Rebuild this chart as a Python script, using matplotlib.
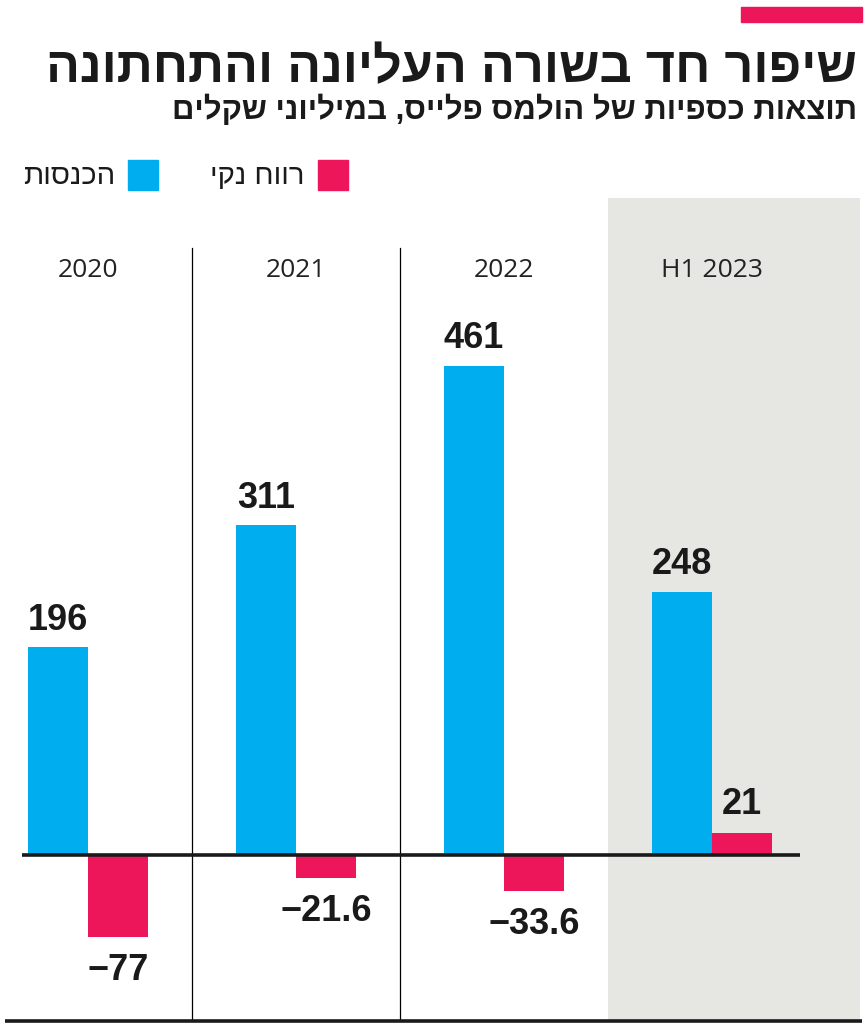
import numpy as np
import matplotlib
matplotlib.use("Agg")
import matplotlib.pyplot as plt

# data
years = ["2020", "2021", "2022", "H1 2023"]
revenue = [196, 311, 461, 248]
net_profit = [-77, -21.6, -33.6, 21]
revenue_labels = ["196", "311", "461", "248"]
profit_labels = ["\u221277", "\u221221.6", "\u221233.6", "21"]

title = "שיפור חד בשורה העליונה והתחתונה"
subtitle = "תוצאות כספיות של הולמס פלייס, במיליוני שקלים"
legend_profit = "רווח נקי"
legend_revenue = "הכנסות"

BLUE = "#00adef"
PINK = "#ee165a"
GRAY = "#e6e6e2"
INK = "#1a1a1a"
HEB = ["Liberation Sans", "DejaVu Sans"]
REG = ["Open Sans", "DejaVu Sans"]


def rtl(s):
    # matplotlib has no bidi, so flip Hebrew by hand
    return s[::-1]


W, H = 867, 1033
fig = plt.figure(figsize=(W / 100, H / 100), dpi=100)

# axes from y=198px to 1022px, full width
top_px, bot_px, zero_px = 198, 1022, 855
scale = 1.061  # px per unit
ax = fig.add_axes([0, 1 - bot_px / H, 1, (bot_px - top_px) / H])
ax.set_ylim(-(bot_px - zero_px) / scale, (zero_px - top_px) / scale)
ax.set_xlim(-88 / 208, (867 - 88) / 208)
ax.axis("off")

x = np.arange(len(years))
w = 0.288

ax.axvspan(2.5, 3.712, color=GRAY, zorder=0, lw=0)
for sx in [0.5, 1.5]:
    ax.plot([sx, sx], [-158, 572], color="black", lw=0.9, zorder=1)

ax.bar(x - w / 2, revenue, width=w, color=BLUE, zorder=2)
ax.bar(x + w / 2, net_profit, width=w, color=PINK, zorder=2)

ax.plot([-0.317, 3.423], [0, 0], color=INK, lw=2.6, zorder=3,
        solid_capstyle="butt")
ax.plot([-0.399, 3.72], [-156.5, -156.5], color=INK, lw=2.6, zorder=3,
        solid_capstyle="butt", clip_on=False)

for i, yr in enumerate(years):
    ax.text(x[i], 551, yr, ha="center", va="center", fontsize=19,
            family=REG, color="#222222")

for i in range(len(years)):
    ax.annotate(revenue_labels[i], (x[i] - w / 2, revenue[i]),
                xytext=(0, 27), textcoords="offset pixels",
                ha="center", va="center", fontsize=26, fontweight="bold",
                family=HEB, color=INK)
    off = 28 if net_profit[i] > 0 else -34
    ax.annotate(profit_labels[i], (x[i] + w / 2, net_profit[i]),
                xytext=(0, off), textcoords="offset pixels",
                ha="center", va="center", fontsize=26, fontweight="bold",
                family=HEB, color=INK)

# header
fig.patches.append(plt.Rectangle((741 / W, 1 - 22 / H), 121 / W, 15 / H,
                                 transform=fig.transFigure, color=PINK))
t1 = fig.text(857 / W, 1 - 82 / H, rtl(title), ha="right", va="baseline",
              fontsize=40, fontweight="bold", family=HEB, color=INK)
t2 = fig.text(857 / W, 1 - 119 / H, rtl(subtitle), ha="right", va="baseline",
              fontsize=22, fontweight="bold", family=HEB, color=INK)

# squeeze header lines to the reference widths
r = fig.canvas.get_renderer()
for t, target in [(t1, 812), (t2, 685)]:
    bw = t.get_window_extent(r).width
    t.set_fontsize(t.get_fontsize() * target / bw)

# legend
fig.patches.append(plt.Rectangle((318 / W, 1 - 190 / H), 30 / W, 30 / H,
                                 transform=fig.transFigure, color=PINK))
fig.patches.append(plt.Rectangle((128 / W, 1 - 190 / H), 30 / W, 30 / H,
                                 transform=fig.transFigure, color=BLUE))
fig.text(305 / W, 1 - 176 / H, rtl(legend_profit), ha="right", va="center",
         fontsize=21, family=HEB, color=INK)
fig.text(115 / W, 1 - 176 / H, rtl(legend_revenue), ha="right", va="center",
         fontsize=21, family=HEB, color=INK)

fig.savefig("out.png", dpi=100)
